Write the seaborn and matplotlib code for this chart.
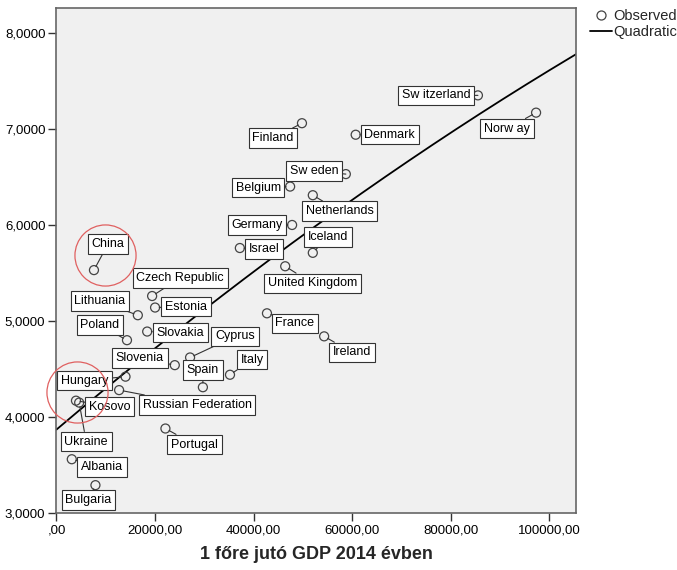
import numpy as np
import pandas as pd
import matplotlib
matplotlib.use('Agg')
import matplotlib.pyplot as plt
import matplotlib.transforms as mtransforms
from matplotlib.lines import Line2D
import seaborn as sns

# Data (GDP per capita 2014, score)
countries = ['Sw itzerland', 'Norw ay', 'Finland', 'Denmark', 'Sw eden', 'Belgium',
             'Netherlands', 'Germany', 'Iceland', 'Israel', 'United Kingdom', 'China',
             'Czech Republic', 'Lithuania', 'Estonia', 'France', 'Poland', 'Slovakia',
             'Ireland', 'Cyprus', 'Slovenia', 'Italy', 'Spain', 'Hungary', 'Kosovo',
             'Russian Federation', 'Ukraine', 'Portugal', 'Albania', 'Bulgaria']
gdp = [85500, 97300, 49800, 60700, 58700, 47400,
       52000, 47800, 52000, 37200, 46400, 7600,
       19400, 16500, 20000, 42700, 14300, 18400,
       54300, 27100, 24000, 35200, 29700, 14000, 3950,
       12700, 4600, 22100, 3100, 7900]
score = [7.35, 7.17, 7.06, 6.94, 6.53, 6.40,
         6.31, 6.00, 5.71, 5.76, 5.57, 5.53,
         5.26, 5.06, 5.14, 5.08, 4.80, 4.89,
         4.84, 4.62, 4.54, 4.44, 4.31, 4.42, 4.17,
         4.28, 4.15, 3.88, 3.56, 3.29]

# label offsets from each point, in pixels (x right, y up)
label_offsets = [(-42, 0), (-29, -16), (-29, -15), (34, 0), (-32, 3), (-32, -1),
                 (27, -16), (-35, 0), (15, 16), (24, -1), (27, -17), (14, 26),
                 (28, 18), (-38, 14), (31, 1), (28, -10), (-27, 15), (33, -1),
                 (28, -16), (45, 21), (-35, 7), (22, 15), (0, 17), (-41, -4), (34, -6),
                 (78, -15), (7, -39), (29, -16), (30, -8), (-7, -15)]

# red highlight circles: (country, offset x px, offset y px)
highlights = [('China', 11, 15), ('Hungary', -49, -15)]

df = pd.DataFrame({'country': countries, 'gdp': gdp, 'score': score})

sns.set_style('white')
plt.rcParams['font.family'] = ['Liberation Sans', 'DejaVu Sans']

fig = plt.figure(figsize=(6.77, 5.70), dpi=100)
ax = fig.add_axes([56.5 / 677, 1 - 513 / 570, (576 - 56.5) / 677, (513 - 8) / 570])
ax.set_facecolor('#f0f0f0')
xmax = 105400
ax.set_xlim(0, xmax)
ax.set_ylim(3.0, 8.26)

# quadratic fit
coef = np.polyfit(df['gdp'], df['score'], 2)
xs = np.linspace(0, xmax, 200)
fit = pd.DataFrame({'gdp': xs, 'fit': np.polyval(coef, xs)})
sns.lineplot(data=fit, x='gdp', y='fit', color='black', linewidth=1.3, ax=ax)

sns.scatterplot(data=df, x='gdp', y='score', marker='o', s=42, facecolor='none',
                edgecolor='#444444', linewidth=0.9, ax=ax, zorder=3)

for name, x, y, (dx, dy) in zip(countries, gdp, score, label_offsets):
    ax.annotate(name, (x, y), xytext=(dx, dy), textcoords='offset pixels',
                ha='center', va='center', fontsize=9, color='black', zorder=4,
                bbox=dict(boxstyle='square,pad=0.3', fc='white', ec='#333333', lw=0.8),
                arrowprops=dict(arrowstyle='-', color='#333333', lw=0.8,
                                shrinkA=0, shrinkB=3))

for name, dx, dy in highlights:
    row = df[df['country'] == name].iloc[0]
    tr = mtransforms.offset_copy(ax.transData, fig=fig, x=dx, y=dy, units='dots')
    ax.plot(row['gdp'], row['score'], marker='o', ms=44, mfc='none', mec='#e06060',
            mew=0.9, transform=tr, clip_on=False, zorder=5)

ax.set_xticks([0, 20000, 40000, 60000, 80000, 100000])
ax.set_yticks([3, 4, 5, 6, 7, 8])
ax.xaxis.set_major_formatter(plt.FuncFormatter(
    lambda v, p: ',00' if v == 0 else f'{v:.2f}'.replace('.', ',')))
ax.yaxis.set_major_formatter(plt.FuncFormatter(lambda v, p: f'{v:.4f}'.replace('.', ',')))
ax.tick_params(direction='out', length=6, width=1, color='#333333', labelsize=9.5,
               labelcolor='black', bottom=True, left=True, pad=2)
for s in ax.spines.values():
    s.set_color('#666666')
    s.set_linewidth(1.2)

ax.set_xlabel('1 főre jutó GDP 2014 évben', fontsize=13, fontweight='bold', labelpad=7)
ax.set_ylabel('')

handles = [Line2D([], [], marker='o', ls='none', mfc='none', mec='#444444', ms=6.5, mew=0.9),
           Line2D([], [], color='black', lw=1.3)]
fig.legend(handles, ['Observed', 'Quadratic'], loc='upper left',
           bbox_to_anchor=(590 / 677, 1 - 9 / 570), frameon=False, fontsize=10.5,
           handlelength=1.5, handletextpad=0.1, labelspacing=0.15, borderpad=0,
           borderaxespad=0)

fig.savefig('out.png', dpi=100)
